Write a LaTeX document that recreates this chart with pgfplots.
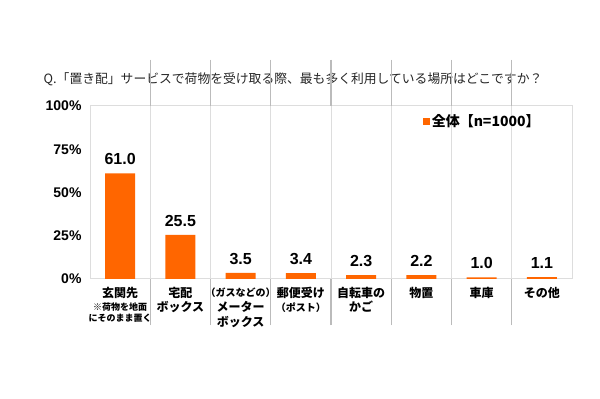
\documentclass[border=0pt]{standalone}
\usepackage{pgfplots}
\pgfplotsset{compat=1.18}
\usepackage{pgfplotstable}
\usepackage{fontspec}
\setmainfont{Noto Sans CJK JP}
\newfontfamily\arialf{Liberation Sans}
\definecolor{orangec}{HTML}{FF6600}
\definecolor{gridc}{HTML}{DDDDDD}
\definecolor{sepc}{HTML}{BBBBBB}
\pgfplotstableread{
x y lab
0 61.0 61.0
1 25.5 25.5
2 3.5 3.5
3 3.4 3.4
4 2.3 2.3
5 2.2 2.2
6 1.0 1.0
7 1.1 1.1
}\data
\begin{document}
\begin{tikzpicture}
\useasboundingbox (0,0) rectangle (600bp,399bp);
\fill[white] (0,0) rectangle (600bp,399bp);
\node[font=\fontsize{12.8bp}{15bp}\selectfont, text=black!85] at (293bp,320bp) {Q.「置き配」サービスで荷物を受け取る際、最も多く利用している場所はどこですか？};
\begin{axis}[
  at={(90bp,120bp)}, anchor=south west,
  scale only axis, width=482bp, height=173bp,
  xmin=-0.5, xmax=7.5, ymin=0, ymax=100,
  axis line style={draw=gridc, line width=1bp},
  ytick={0,25,50,75,100},
  yticklabels={0\%,25\%,50\%,75\%,100\%},
  yticklabel style={font=\arialf\bfseries\fontsize{14bp}{16bp}\selectfont, xshift=-5bp},
  xtick={0,...,7},
  xticklabels={
    {玄関先\\[0bp]{\fontsize{9bp}{10bp}\selectfont ※荷物を地面}\\[-2bp]{\fontsize{9bp}{10bp}\selectfont にそのまま置く}},
    {宅配\\[1bp]ボックス},
    {{\fontsize{10bp}{11bp}\selectfont （ガスなどの）}\\[2bp]メーター\\[2bp]ボックス},
    {郵便受け\\[1bp]{\fontsize{10bp}{11bp}\selectfont （ポスト）}},
    {自転車の\\[1bp]かご},
    {物置},
    {車庫},
    {その他}},
  xticklabel style={font=\bfseries\fontsize{12bp}{13bp}\selectfont, align=center, anchor=north, yshift=-5bp},
  major tick length=0pt,
  extra x ticks={0.5,1.5,2.5,3.5,4.5,5.5,6.5},
  extra x tick labels={},
  extra x tick style={grid=major, major grid style={draw=gridc, line width=0.8bp},
     major tick length=46bp, tick align=outside, tick style={draw=sepc, line width=1.2bp}},
  legend style={draw=none, fill=none, at={(0.69,0.913)}, anchor=west,
     font=\bfseries\fontsize{14bp}{16bp}\selectfont, inner sep=0pt},
  legend image code/.code={\fill[orangec] (0bp,-3.5bp) rectangle (7bp,3.5bp);},
  nodes near coords style={font=\arialf\bfseries\fontsize{16bp}{18bp}\selectfont, yshift=5bp},
]
\addplot[ybar, bar width=30bp, fill=orangec, draw=none, nodes near coords, point meta=explicit symbolic]
  table[x=x, y=y, meta=lab]{\data};
\addlegendentry{全体【n=1000】}
\end{axis}
\end{tikzpicture}
\end{document}
